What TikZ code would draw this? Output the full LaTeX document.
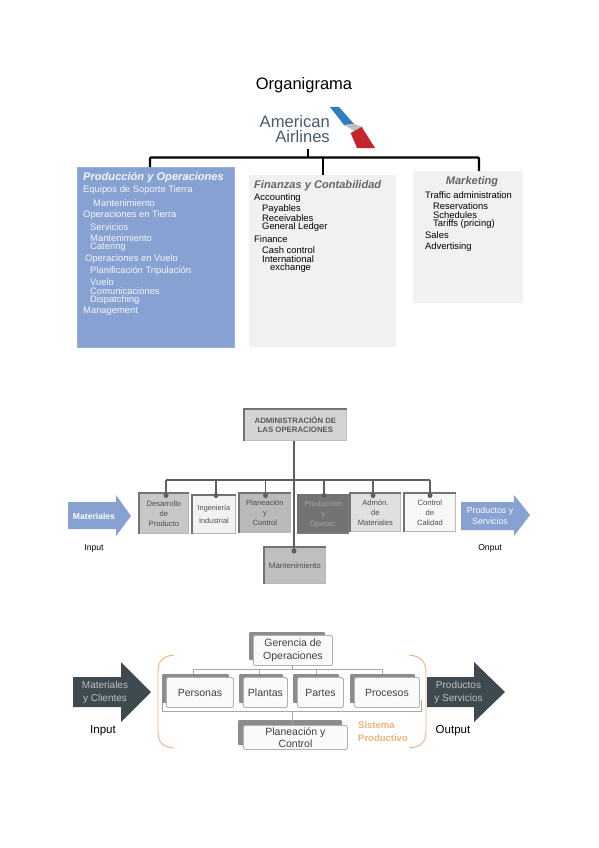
\documentclass[tikz,border=0pt]{standalone}
\usepackage{fontspec}
\setmainfont{Liberation Sans}
\definecolor{blueb}{HTML}{86A1D2}
\definecolor{lgray}{HTML}{F1F1F1}
\definecolor{bus}{HTML}{5F5F5F}
\definecolor{dark}{HTML}{3F4A50}
\definecolor{orng}{HTML}{F0B27A}
\definecolor{aablue}{HTML}{2F7FC0}
\definecolor{aared}{HTML}{C4242B}
\definecolor{aatxt}{HTML}{4A5A6E}
\newcommand{\fs}[1]{\fontsize{#1}{#1}\selectfont}
\tikzset{
 lab/.style={inner sep=0pt,anchor=west,yshift=-.7pt,font=\fs{9.4}},
 wlab/.style={lab,text=white!92!blueb},
 head/.style={font=\fs{11.1}\bfseries\itshape},
 sbox/.style={draw=black!28,line width=.8pt,inner sep=0pt,align=center,font=\fs{7.6},text=black!70},
 fbox/.style={draw=black!30,fill=black!2,rounded corners=1.5pt,line width=.9pt,inner sep=0pt,align=center,font=\fs{10.5},text=black!75},
 shadowr/.style={fill=black!45,rounded corners=1pt},
 thick bus/.style={line width=2.2pt,black},
 mid bus/.style={line width=1.9pt,bus},
 thin bus/.style={line width=.8pt,black!35},
 dot/.style={circle,fill=bus,inner sep=0pt,minimum size=5pt},
}
\begin{document}
\begin{tikzpicture}[x=1pt,y=-1pt]
\useasboundingbox (0,0) rectangle (599,848);
\fill[white] (0,0) rectangle (599,848);
% ---------- Section 1
\node[inner sep=0pt,yshift=-.7pt,font=\fs{16.5}] (title) at (304,85) {Organigrama};
\node[inner sep=0pt,anchor=east,font=\fs{16.6},text=aatxt] (am) at (330,121.5) {American};
\node[inner sep=0pt,anchor=east,font=\fs{16.6},text=aatxt] (ai) at (330,137) {Airlines};
\fill[aablue] (330,107) -- (339,107) -- (354,124) -- (344,125) -- cycle;
\fill[black!25] (344,125) -- (354,124) -- (363,127) -- (358,133) -- cycle;
\fill[aared] (350.7,133) -- (361.7,127) -- (375,148) -- (357,148) -- cycle;
\coordinate (logo) at (308,149);
\coordinate (bus1) at (308,157.5);
\node[fill=blueb,draw=blueb!85!white,minimum width=157pt,minimum height=180pt,inner sep=0pt,anchor=north west] (prod) at (77,167) {};
\node[fill=lgray,minimum width=147pt,minimum height=172pt,inner sep=0pt,anchor=north west] (fin) at (249,175) {};
\node[fill=lgray,minimum width=110pt,minimum height=132pt,inner sep=0pt,anchor=north west] (mkt) at (413,171) {};
\draw[thick bus] (logo) -- (bus1);
\draw[thick bus,rounded corners=1pt] (prod.north -| 150,0) -- (150,157.5) -- (479,157.5) -- (mkt.north -| 479,0);
\draw[thick bus] (323,157.5) -- (fin.north -| 323,0);
% blue list
\node[wlab,head] (p0) at (83,177) {Producción y Operaciones};
\node[wlab] (p1) at (83,189) {Equipos de Soporte Tierra};
\node[wlab] (p2) at (93,202) {Mantenimiento};
\node[wlab] (p3) at (83,214) {Operaciones en Tierra};
\node[wlab] (p4) at (90,226) {Servicios};
\node[wlab] (p5) at (90,237.5) {Mantenimiento};
\node[wlab] (p6) at (90,246.5) {Catering};
\node[wlab] (p7) at (85,258) {Operaciones en Vuelo};
\node[wlab] (p8) at (90,270) {Planificación Tripulación};
\node[wlab] (p9) at (90,281.5) {Vuelo};
\node[wlab] (p10) at (90,290.5) {Comunicaciones};
\node[wlab] (p11) at (90,299.5) {Dispatching};
\node[wlab] (p12) at (83,310.5) {Management};
% gray list
\node[lab,head,text=black!60] (f0) at (254,185) {Finanzas y Contabilidad};
\node[lab] (f1) at (254,197) {Accounting};
\node[lab] (f2) at (262,208.5) {Payables};
\node[lab] (f3) at (262,217.5) {Receivables};
\node[lab] (f4) at (262,226.5) {General Ledger};
\node[lab] (f5) at (254,238) {Finance};
\node[lab] (f6) at (262,249) {Cash control};
\node[lab] (f7) at (262,258) {International};
\node[lab] (f8) at (270,267) {exchange};
% marketing list
\node[inner sep=0pt,yshift=-.7pt,head,text=black!60] (m0) at (472,181) {Marketing};
\node[lab] (m1) at (425,194) {Traffic administration};
\node[lab] (m2) at (433,205.5) {Reservations};
\node[lab] (m3) at (433,214.5) {Schedules};
\node[lab] (m4) at (433,223.5) {Tariffs (pricing)};
\node[lab] (m5) at (425,234.5) {Sales};
\node[lab] (m6) at (425,246) {Advertising};
% ---------- Section 2
\node[fill=black!17,draw=black!25,line width=.8pt,minimum width=102pt,minimum height=31pt,inner sep=0pt,anchor=north west,align=center,font=\fs{7.8}\bfseries,text=black!65] (adm) at (244,409) {ADMINISTRACIÓN DE\\[1.5pt]LAS OPERACIONES};
\node[sbox,fill=black!22,minimum width=49pt,minimum height=40pt,anchor=north west] (b1) at (139,493) {Desarrollo\\[2.5pt]de\\[2.5pt]Producto};
\node[sbox,fill=black!5,minimum width=43pt,minimum height=38pt,anchor=north west,font=\fs{7.3}] (b2) at (192,495) {Ingeniería\\[6pt]Industrial};
\node[sbox,fill=black!27,minimum width=51pt,minimum height=39pt,anchor=north west] (b3) at (239,493) {Planeación\\[2.5pt]y\\[2.5pt]Control};
\node[sbox,fill=black!55,draw=black!50,minimum width=50pt,minimum height=38pt,anchor=north west,text=black!35] (b4) at (298,495) {Producción\\[2.5pt]y\\[2.5pt]Operac.};
\node[sbox,fill=black!12,minimum width=50pt,minimum height=38pt,anchor=north west] (b5) at (350,493) {Admón.\\[2.5pt]de\\[2.5pt]Materiales};
\node[sbox,fill=black!3,minimum width=51pt,minimum height=38pt,anchor=north west] (b6) at (404,493) {Control\\[2.5pt]de\\[2.5pt]Calidad};
\node[sbox,fill=black!25,minimum width=61pt,minimum height=36pt,anchor=north west,font=\fs{7.9}] (b7) at (264,547) {Mantenimiento};
\foreach \nm in {adm,b1,b2,b3,b4,b5,b6,b7}{
  \draw[black!55,line width=1.1pt] (\nm.south west) -- (\nm.north west) -- (\nm.north east);
}
\draw[mid bus] (adm.south -| 294,0) -- (294,551) node[dot] (d7) {};
\draw[mid bus] (166,480) -- (430,480);
\foreach \nm/\xx in {b1/166,b2/216,b3/265.5,b4/324,b5/373,b6/430}{
  \draw[mid bus] (\xx,480) -- (\xx,495.5) node[dot] {};
}
\fill[blueb] (68,502) -- (116,502) -- (116,495) -- (131,516) -- (116,536) -- (116,529) -- (68,529) -- cycle;
\node[inner sep=0pt,font=\fs{8.6}\bfseries,text=white] (inm) at (94,516) {Materiales};
\fill[blueb] (461,502) -- (514,502) -- (514,495) -- (530,515) -- (514,536) -- (514,530) -- (461,530) -- cycle;
\node[inner sep=0pt,font=\fs{8.8},text=white,align=center] (outp) at (490,516) {Productos y\\[2.5pt]Servicios};
\node[inner sep=0pt,font=\fs{8.6}] (in2) at (94,548) {Input};
\node[inner sep=0pt,font=\fs{8.6}] (out2) at (490,548) {Onput};
% ---------- Section 3
\draw[thin bus] (193,674) -- (193,669) -- (382,669) -- (382,674);
\draw[thin bus] (259,669) -- (259,674) (316,669) -- (316,674);
\draw[thin bus] (162,700) -- (162,711) -- (421,711) -- (421,700);
\fill[shadowr] (249,632) rectangle (325,660);
\node[fbox,minimum width=79pt,minimum height=30pt,anchor=north west] (ger) at (253,635) {Gerencia de\\[2.5pt]Operaciones};
\foreach \nm/\xa/\xb/\tx in {per/166/233/Personas,pla/243/287/Plantas,par/297/343/Partes,pro/354/419/Procesos}{
  \fill[shadowr] ({\xa-4},674) rectangle ({\xb-4},703);
  \pgfmathsetmacro{\ww}{\xb-\xa}
  \node[fbox,minimum width=\ww pt,minimum height=30pt,anchor=north west] (\nm) at (\xa,677) {\tx};
}
\fill[shadowr] (238,720) rectangle (342,745);
\node[fbox,minimum width=104pt,minimum height=24pt,anchor=north west] (pc) at (243,725) {Planeación y\\[1pt]Control};
\draw[thin bus] (292,711) -- (pc.north -| 292,0);
\draw[thin bus] (ger.south -| 292,0) -- (292,669);
\fill[dark] (73,677) -- (121,677) -- (121,662) -- (151,692) -- (121,722) -- (121,707) -- (73,707) -- cycle;
\node[inner sep=0pt,align=center,font=\fs{10},text=black!25] (mc) at (105,692.5) {Materiales\\[3.5pt]y Clientes};
\fill[dark] (427,677) -- (474,677) -- (474,662) -- (505,692) -- (474,722) -- (474,707) -- (427,707) -- cycle;
\node[inner sep=0pt,align=center,font=\fs{10},text=black!25] (ps) at (458.5,692.5) {Productos\\[3.5pt]y Servicios};
\node[inner sep=0pt,font=\fs{11.5}] (in3) at (103,731) {Input};
\node[inner sep=0pt,font=\fs{11.5}] (out3) at (453,731) {Output};
\draw[orng,line width=.9pt] (174,655) .. controls (162,656) and (158,662) .. (158,672) -- (158,731) .. controls (158,742) and (162,747) .. (174,748);
\draw[orng,line width=.9pt] (409,655) .. controls (421,656) and (426,662) .. (426,672) -- (426,731) .. controls (426,742) and (421,747) .. (409,748);
\node[inner sep=0pt,anchor=west,font=\fs{9.5}\bfseries,text=orng] (s1) at (358,725) {Sistema};
\node[inner sep=0pt,anchor=west,font=\fs{9.5}\bfseries,text=orng] (s2) at (358,738) {Productivo};
\end{tikzpicture}
\end{document}
